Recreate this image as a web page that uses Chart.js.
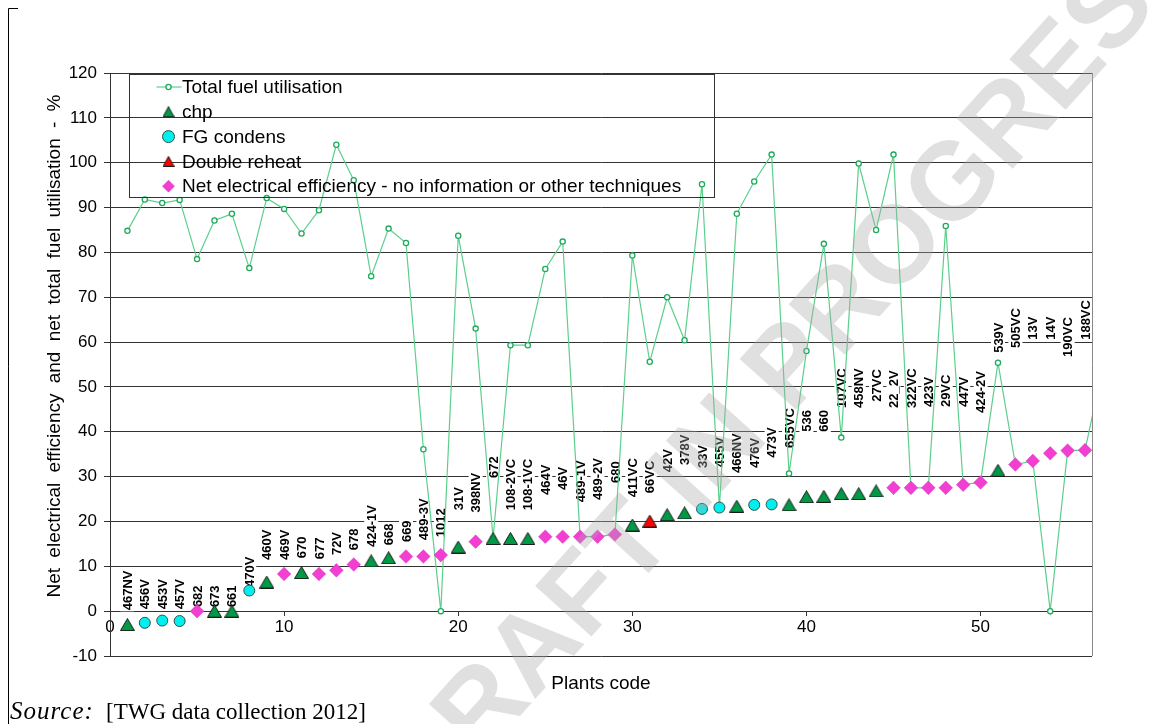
<!DOCTYPE html>
<html>
<head>
<meta charset="utf-8">
<script src="https://cdn.jsdelivr.net/npm/chart.js@4.4.1/dist/chart.umd.min.js"></script>
<style>
  html, body { margin: 0; padding: 0; background: #fff; }
  #wrap { position: relative; width: 1170px; height: 724px; }
</style>
</head>
<body>
<div id="wrap"><canvas id="chart" width="1170" height="724"></canvas></div>
<script>
// --- data ---
const plantCodes = ['467NV', '456V', '453V', '457V', '682', '673', '661', '470V', '460V', '469V',
  '670', '677', '72V', '678', '424-1V', '668', '669', '489-3V', '1012', '31V',
  '398NV', '672', '108-2VC', '108-1VC', '464V', '46V', '489-1V', '489-2V', '680', '411VC',
  '66VC', '42V', '378V', '33V', '455V', '466NV', '476V', '473V', '655VC', '536',
  '660', '107VC', '458NV', '27VC', '22_2V', '322VC', '423V', '29VC', '447V', '424-2V',
  '539V', '505VC', '13V', '14V', '190VC', '188VC'];

const technique = ['chp', 'fg', 'fg', 'fg', 'other', 'chp', 'chp', 'fg', 'chp', 'other',
  'chp', 'other', 'other', 'other', 'chp', 'chp', 'other', 'other', 'other', 'chp',
  'other', 'chp', 'chp', 'chp', 'other', 'other', 'other', 'other', 'other', 'chp',
  'reheat', 'chp', 'chp', 'fg', 'fg', 'chp', 'fg', 'fg', 'chp', 'chp',
  'chp', 'chp', 'chp', 'chp', 'other', 'other', 'other', 'other', 'other', 'other',
  'chp', 'other', 'other', 'other', 'other', 'other'];

const netEfficiency = [-3.0, -2.6, -2.1, -2.2, 0, 0, 0, 4.6, 6.5, 8.3,
  8.6, 8.3, 9.1, 10.4, 11.2, 11.9, 12.2, 12.2, 12.5, 14.3,
  15.5, 16.2, 16.2, 16.2, 16.6, 16.6, 16.6, 16.6, 17.1, 19.2,
  20.1, 21.5, 21.9, 22.8, 23.1, 23.4, 23.7, 23.8, 23.7, 25.5,
  25.6, 26.2, 26.2, 26.8, 27.5, 27.5, 27.5, 27.5, 28.2, 28.7,
  31.4, 32.7, 33.5, 35.2, 35.8, 35.9];

// 57th value belongs to a plant beyond the end of the axis (only its line is visible)
const fuelUtilisation = [84.8, 91.8, 91.0, 91.7, 78.5, 87.1, 88.6, 76.5, 92.1, 89.7,
  84.2, 89.4, 104.0, 96.1, 74.7, 85.3, 82.1, 36.1, 0, 83.7,
  63.0, 16.2, 59.3, 59.3, 76.3, 82.4, 16.6, 16.6, 17.1, 79.3,
  55.6, 70.0, 60.4, 95.2, 23.1, 88.6, 95.8, 101.8, 30.7, 58.0,
  81.9, 38.7, 99.8, 85.0, 101.8, 27.5, 27.5, 85.9, 28.2, 28.7,
  55.4, 32.7, 33.5, 0, 35.8, 35.9, 54];

// value (in % units) where each rotated plant label starts, as placed in the original
const labelBase = [0.2, 0.4, 0.4, 0.4, 0.9, 0.9, 0.9, 5.4, 11.4, 11.4,
  11.8, 11.6, 12.5, 13.6, 14.3, 14.7, 15.4, 15.8, 16.5, 22.5,
  22.0, 29.7, 22.5, 22.5, 25.9, 27.0, 24.3, 24.8, 28.6, 25.4,
  26.3, 31.0, 32.6, 31.9, 32.1, 30.8, 31.9, 34.2, 36.4, 40.0,
  40.0, 45.3, 45.3, 46.7, 45.3, 45.3, 45.5, 45.5, 45.5, 44.2,
  57.6, 58.7, 60.5, 60.5, 56.7, 60.5];

const legendLabels = ['Total fuel utilisation', 'chp', 'FG condens', 'Double reheat',
  'Net electrical efficiency - no information or other techniques'];

const yTitle = 'Net electrical efficiency and net total fuel utilisation - %';
const xTitle = 'Plants code';

const FONT = 'Arial, "Liberation Sans", sans-serif';
const SERIF = '"Liberation Serif", "Times New Roman", serif';

function triangleMarker(fill, w, h) {
  const c = document.createElement('canvas');
  c.width = w; c.height = h;
  const g = c.getContext('2d');
  g.beginPath();
  g.moveTo(w / 2, 0.5);
  g.lineTo(w - 0.5, h - 0.5);
  g.lineTo(0.5, h - 0.5);
  g.closePath();
  g.fillStyle = fill;
  g.fill();
  g.strokeStyle = '#1a1a1a';
  g.lineWidth = 1;
  g.stroke();
  return c;
}

const chpTri = triangleMarker('#009a46', 15, 13);
const reheatTri = triangleMarker('#ff0000', 15, 13);
const chpTriSmall = triangleMarker('#009a46', 12, 11);
const reheatTriSmall = triangleMarker('#ff0000', 12, 11);

function pointsFor(key) {
  return plantCodes
    .map((code, i) => (technique[i] === key ? { x: i + 1, y: netEfficiency[i] } : null))
    .filter(Boolean);
}

const datasets = [
  {
    label: legendLabels[0],
    data: fuelUtilisation.map((v, i) => ({ x: i + 1, y: v })),
    showLine: true,
    borderColor: '#5ccf8c',
    borderWidth: 1.2,
    pointStyle: 'circle',
    pointRadius: 2.6,
    pointBorderColor: '#1faa5c',
    pointBackgroundColor: '#fff',
    pointBorderWidth: 1.3,
    order: 1,
  },
  {
    label: legendLabels[1],
    data: pointsFor('chp'),
    pointStyle: chpTri,
    legendStyle: chpTriSmall,
    order: 0,
  },
  {
    label: legendLabels[2],
    data: pointsFor('fg'),
    pointStyle: 'circle',
    pointRadius: 5.5,
    backgroundColor: '#00f0f0',
    borderColor: '#2f4f4f',
    borderWidth: 1,
    legendRadius: 6,
    order: 0,
  },
  {
    label: legendLabels[3],
    data: pointsFor('reheat'),
    pointStyle: reheatTri,
    legendStyle: reheatTriSmall,
    order: 0,
  },
  {
    label: legendLabels[4],
    data: pointsFor('other'),
    pointStyle: 'rectRot',
    pointRadius: 6.8,
    backgroundColor: '#f23fd2',
    borderColor: '#d236be',
    borderWidth: 0.5,
    legendRadius: 6,
    order: 0,
  },
];

// rotated plant codes above the markers, on a white box like the original data labels
const plantLabels = {
  id: 'plantLabels',
  beforeDatasetsDraw(chart) {
    const { ctx, scales: { x, y } } = chart;
    ctx.save();
    ctx.font = 'bold 13px ' + FONT;
    ctx.textBaseline = 'middle';
    ctx.textAlign = 'left';
    plantCodes.forEach((code, i) => {
      const px = x.getPixelForValue(i + 1);
      const py = y.getPixelForValue(labelBase[i]);
      const w = ctx.measureText(code).width;
      ctx.save();
      ctx.translate(px, py);
      ctx.rotate(-Math.PI / 2);
      ctx.fillStyle = '#fff';
      ctx.fillRect(-1, -7, w + 2, 14);
      ctx.fillStyle = '#000';
      ctx.fillText(code, 0, 1);
      ctx.restore();
    });
    ctx.restore();
  },
};

// legend box drawn inside the plot, top left
const insideLegend = {
  id: 'insideLegend',
  afterDatasetsDraw(chart) {
    const { ctx, chartArea } = chart;
    const left = chartArea.left + 19.5, top = chartArea.top + 1.5;
    const w = 585, h = 123, rowH = 24.8;
    ctx.save();
    ctx.strokeStyle = '#333';
    ctx.lineWidth = 1;
    ctx.strokeRect(left, top, w, h);
    ctx.font = '19px ' + FONT;
    ctx.textBaseline = 'middle';
    ctx.fillStyle = '#000';
    chart.data.datasets.forEach((ds, i) => {
      const cy = top + 12.5 + i * rowH;
      const mx = left + 39;
      if (i === 0) {
        ctx.strokeStyle = ds.borderColor;
        ctx.lineWidth = ds.borderWidth;
        ctx.beginPath();
        ctx.moveTo(left + 27, cy);
        ctx.lineTo(left + 52, cy);
        ctx.stroke();
        ctx.fillStyle = ds.pointBackgroundColor;
        ctx.strokeStyle = ds.pointBorderColor;
        ctx.lineWidth = ds.pointBorderWidth;
        Chart.helpers.drawPoint(ctx, { pointStyle: 'circle', radius: 2.6, borderWidth: ds.pointBorderWidth }, mx, cy);
      } else if (ds.legendStyle) {
        Chart.helpers.drawPoint(ctx, { pointStyle: ds.legendStyle, radius: 6 }, mx, cy);
      } else {
        ctx.fillStyle = ds.backgroundColor;
        ctx.strokeStyle = ds.borderColor;
        ctx.lineWidth = ds.borderWidth;
        Chart.helpers.drawPoint(ctx, { pointStyle: ds.pointStyle, radius: ds.legendRadius, borderWidth: ds.borderWidth }, mx, cy);
      }
      ctx.fillStyle = '#000';
      ctx.fillText(ds.label, left + 52.5, cy + 1);
    });
    ctx.restore();
  },
};

// axis titles, source line, frame, right border and watermark
const decorations = {
  id: 'decorations',
  afterDraw(chart) {
    const { ctx, chartArea } = chart;
    ctx.save();
    ctx.strokeStyle = '#888';
    ctx.lineWidth = 1;
    ctx.beginPath();
    ctx.moveTo(Math.round(chartArea.right) + 0.5, chartArea.top);
    ctx.lineTo(Math.round(chartArea.right) + 0.5, chartArea.bottom);
    ctx.stroke();

    ctx.strokeStyle = '#000';
    ctx.beginPath();
    ctx.moveTo(18, 8.5);
    ctx.lineTo(8.5, 8.5);
    ctx.lineTo(8.5, 724);
    ctx.stroke();

    ctx.fillStyle = '#000';
    ctx.textAlign = 'center';
    ctx.textBaseline = 'middle';
    ctx.font = '19px ' + FONT;
    ctx.fillText(xTitle, (chartArea.left + chartArea.right) / 2, 684);

    ctx.save();
    ctx.translate(55, 346);
    ctx.rotate(-Math.PI / 2);
    ctx.wordSpacing = '5px';
    ctx.fillText(yTitle, 0, 0);
    ctx.restore();

    ctx.save();
    ctx.textAlign = 'left';
    ctx.textBaseline = 'alphabetic';
    ctx.font = 'italic 25px ' + SERIF;
    ctx.letterSpacing = '1px';
    ctx.fillText('Source:', 10, 719);
    ctx.letterSpacing = '0px';
    ctx.font = '23px ' + SERIF;
    ctx.fillText('[TWG data collection 2012]', 106, 719);
    ctx.restore();

    // DRAFT watermark
    ctx.translate(795, 365);
    ctx.rotate(-48 * Math.PI / 180);
    ctx.font = 'bold 110px ' + FONT;
    ctx.textAlign = 'center';
    ctx.textBaseline = 'middle';
    ctx.fillStyle = 'rgba(170,170,170,0.36)';
    ctx.fillText('DRAFT IN PROGRESS', 0, 0);
    ctx.restore();
  },
};

new Chart(document.getElementById('chart'), {
  type: 'scatter',
  data: { datasets },
  options: {
    responsive: false,
    devicePixelRatio: 1,
    animation: false,
    layout: { padding: { left: 0, top: 73, right: 78, bottom: 68 } },
    plugins: {
      legend: { display: false },
      tooltip: { enabled: false },
    },
    scales: {
      x: {
        type: 'linear',
        min: 0,
        max: 56.4,
        position: { y: 0 },
        ticks: {
          stepSize: 10,
          includeBounds: false,
          maxRotation: 0,
          padding: 2,
          color: '#000',
          font: { family: FONT, size: 17 },
        },
        grid: { drawOnChartArea: false, drawTicks: true, tickLength: 4, color: '#333' },
        border: { display: true, color: '#333' },
      },
      y: {
        type: 'linear',
        min: -10,
        max: 120,
        ticks: {
          stepSize: 10,
          padding: 7,
          color: '#000',
          font: { family: FONT, size: 17 },
        },
        grid: { color: '#333', tickColor: '#333', tickLength: 6 },
        border: { display: true, color: '#333' },
        afterFit: (scale) => { scale.width = 110; },
      },
    },
  },
  plugins: [plantLabels, insideLegend, decorations],
});
</script>
</body>
</html>
